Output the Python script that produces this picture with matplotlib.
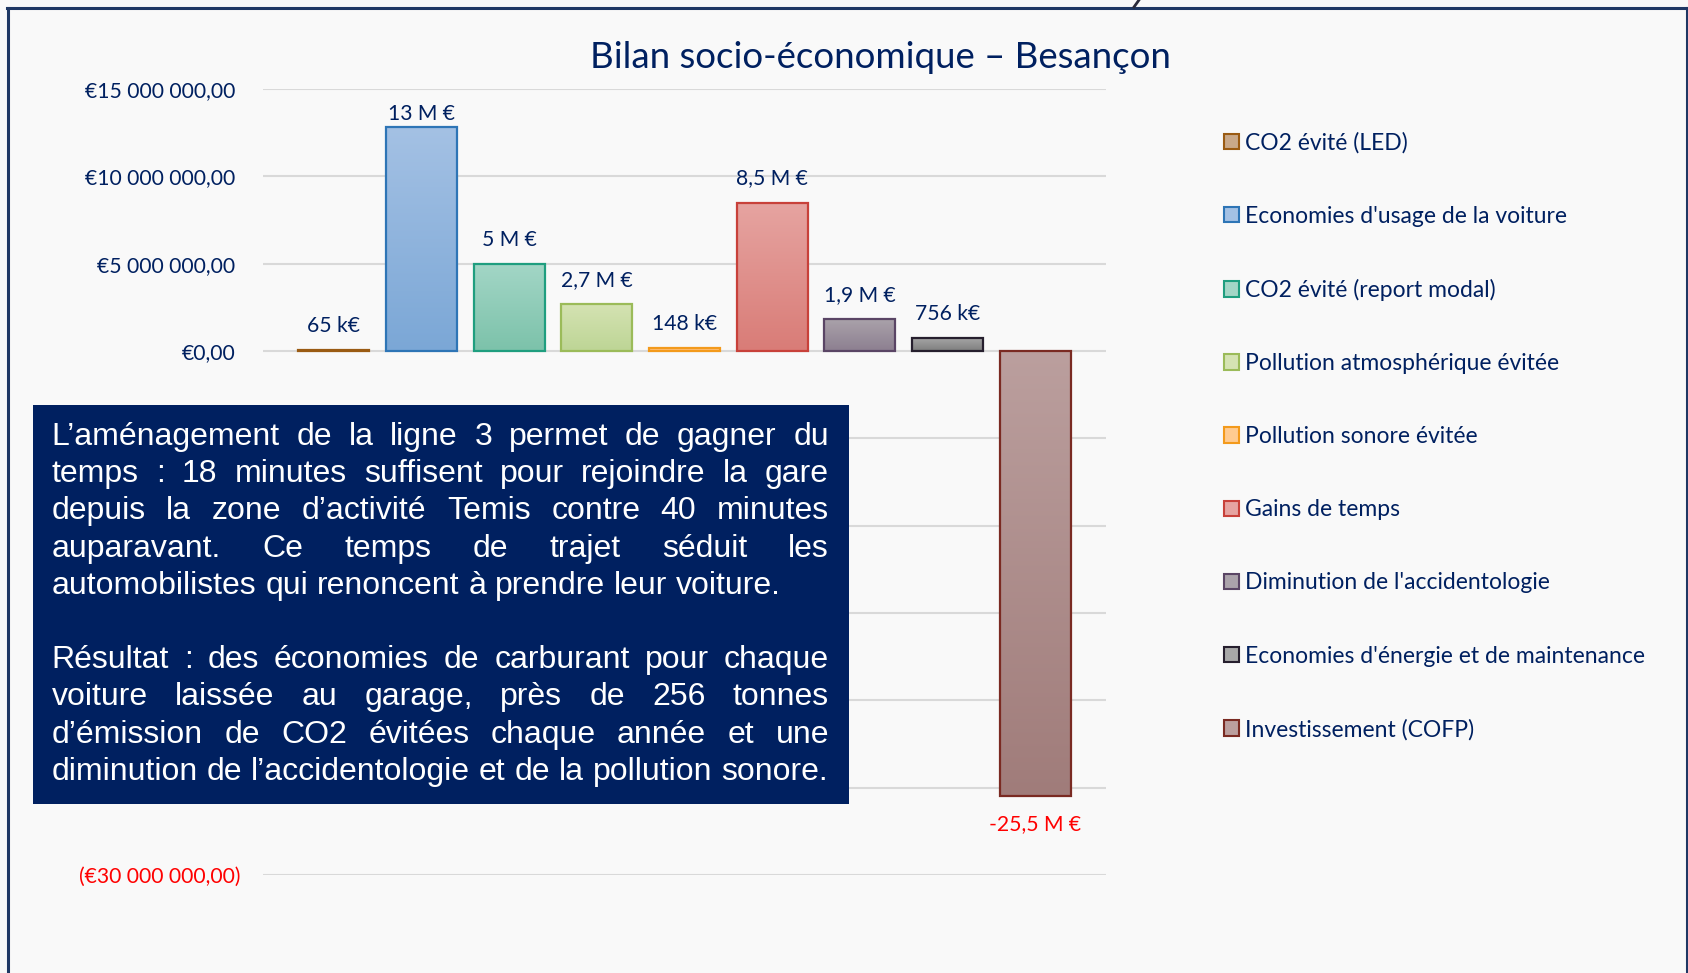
import numpy as np
import matplotlib.pyplot as plt
from matplotlib.patches import Rectangle, Patch
from matplotlib.colors import LinearSegmentedColormap
from matplotlib.lines import Line2D
from matplotlib.transforms import IdentityTransform, ScaledTranslation

W, H = 1688, 973
NAVY = '#002060'

categories = ["CO2 évité (LED)", "Economies d'usage de la voiture", "CO2 évité (report modal)",
              "Pollution atmosphérique évitée", "Pollution sonore évitée", "Gains de temps",
              "Diminution de l'accidentologie", "Economies d'énergie et de maintenance",
              "Investissement (COFP)"]
values = [65e3, 12.8e6, 5.0e6, 2.7e6, 148e3, 8.5e6, 1.85e6, 756e3, -25.5e6]
value_labels = ["65 k€", "13 M €", "5 M €", "2,7 M €", "148 k€", "8,5 M €", "1,9 M €", "756 k€", "-25,5 M €"]
y_ticks = [-30e6, -25e6, -20e6, -15e6, -10e6, -5e6, 0, 5e6, 10e6, 15e6]

top_colors = ['#C9A98A', '#A4C1E4', '#A3D6C6', '#D5E3B3', '#FFCB91', '#E6A4A1', '#ABA3AB', '#A8A8A8', '#BB9F9E']
bot_colors = ['#B08D6E', '#7BA7D6', '#7CC2AA', '#BDD595', '#FFB870', '#D97C77', '#8C7F90', '#7E7E7E', '#A07C7A']
edge_colors = ['#9A5B13', '#2E75B6', '#1F9E7F', '#9BBB59', '#F39A1C', '#C8413A', '#5A4565', '#261F2E', '#7A2A22']

para1 = ["L’aménagement de la ligne 3 permet de gagner du",
         "temps : 18 minutes suffisent pour rejoindre la gare",
         "depuis la zone d’activité Temis contre 40 minutes",
         "auparavant. Ce temps de trajet séduit les",
         "automobilistes qui renoncent à prendre leur voiture."]
para2 = ["Résultat : des économies de carburant pour chaque",
         "voiture laissée au garage, près de 256 tonnes",
         "d’émission de CO2 évitées chaque année et une",
         "diminution de l’accidentologie et de la pollution sonore."]

lab_font = 'Lato'
lab_size = 15.2

fig = plt.figure(figsize=(W/100, H/100), dpi=100)
fig.patch.set_facecolor('#F9F9F9')
ax = fig.add_axes([263/W, (H-875)/H, 843/W, 786/H])
ax.set_facecolor('none')

x = np.arange(len(values))
bw = 0.81
bars = ax.bar(x, values, width=bw, facecolor='none', edgecolor=edge_colors, linewidth=1.6, zorder=3)

# gradient fill inside each bar
for b, ct, cb in zip(bars, top_colors, bot_colors):
    x0, w = b.get_x(), b.get_width()
    y0, h = b.get_y(), b.get_height()
    cmap = LinearSegmentedColormap.from_list('g', [ct, cb])
    im = ax.imshow(np.linspace(0, 1, 256).reshape(-1, 1), cmap=cmap, origin='upper', aspect='auto',
                   extent=[x0, x0 + w, min(y0, y0 + h), max(y0, y0 + h)], zorder=2)
    im.set_clip_path(b)

ax.set_xlim(-0.805, len(values) - 1 + 0.805)
ax.set_ylim(-30e6, 15e6)


def euro(v):
    s = f"{abs(v):,.2f}".replace(",", " ").replace(".", ",")
    return f"(€{s})" if v < 0 else f"€{s}"


# labels between -25M and -5M sit behind the text box in the original, so they stay blank
shown = [t >= 0 or t == y_ticks[0] for t in y_ticks]
ax.set_yticks(y_ticks, labels=[euro(t) if s else "" for t, s in zip(y_ticks, shown)])
ax.tick_params(axis='y', length=0, pad=20)
for lbl, t in zip(ax.get_yticklabels(), y_ticks):
    lbl.set_fontfamily(lab_font)
    lbl.set_fontsize(lab_size)
    lbl.set_color('#FF0000' if t < 0 else NAVY)
    if t < 0:
        # the closing parenthesis hangs past the right edge of the positive labels
        lbl.set_transform(lbl.get_transform() + ScaledTranslation(0.052, 0, fig.dpi_scale_trans))
ax.set_xticks([])
for s in ax.spines.values():
    s.set_visible(False)
ax.yaxis.grid(True, color='#D9D9D9', linewidth=1.5)
ax.set_axisbelow(True)

# data labels (kept inside the plot area like the original)
ceiling = H - 88 - 26
for xi, v, lab in zip(x, values, value_labels):
    yd = ax.transData.transform((xi, v))[1]
    if v >= 0:
        off = min(24, ceiling - yd)
        ax.annotate(lab, (xi, v), xytext=(0, off), textcoords='offset pixels', ha='center', va='center',
                    fontsize=lab_size, family=lab_font, color=NAVY)
    else:
        ax.annotate(lab, (xi, v), xytext=(0, -28), textcoords='offset pixels', ha='center', va='center',
                    fontsize=lab_size, family=lab_font, color='#FF0000')

fig.text(880/W, 1 - 57/H, "Bilan socio-économique – Besançon", ha='center', va='center',
         fontsize=26.4, family=lab_font, color=NAVY)

handles = [Patch(facecolor=(ct), edgecolor=ec, linewidth=1.5) for ct, ec in zip(top_colors, edge_colors)]
fig.legend(handles, categories, loc='upper left', bbox_to_anchor=(1224/W, 1 - 132/H), frameon=False,
           prop={'family': lab_font, 'size': 16.5}, handlelength=0.66, handleheight=0.66,
           handletextpad=0.25, labelspacing=2.275, borderpad=0, borderaxespad=0, labelcolor=NAVY)

# text box
ident = IdentityTransform()
fig.add_artist(Rectangle((33.3, H - 804.3), 815.5, 399.5, transform=ident, facecolor=NAVY,
                         edgecolor='none', zorder=5))
renderer = fig.canvas.get_renderer()
tx0, tx1 = 51.7, 829.0
tfont = dict(family='Liberation Sans', fontsize=23.0, color='white', va='baseline', ha='left',
             transform=ident, zorder=6)
probe_a = fig.text(0, 0, "a a", **tfont)
probe_b = fig.text(0, 0, "aa", **tfont)
space_w = probe_a.get_window_extent(renderer).width - probe_b.get_window_extent(renderer).width
probe_a.remove()
probe_b.remove()

rows = [(ln, i < len(para1) - 1) for i, ln in enumerate(para1)] + [None] + \
       [(ln, i < len(para2) - 1) for i, ln in enumerate(para2)]
base = 445
for r, row in enumerate(rows):
    if row is None:
        continue
    line, justify = row
    yb = H - (base + 37.2 * r)
    words = line.split(" ")
    texts = [fig.text(0, yb, w, **tfont) for w in words]
    widths = [t.get_window_extent(renderer).width for t in texts]
    gap = (tx1 - tx0 - sum(widths)) / (len(words) - 1) if justify else space_w
    cx = tx0
    for t, w in zip(texts, widths):
        t.set_x(cx)
        cx += w + gap

# slide frame
frame = '#1F3864'
fig.add_artist(Line2D([7, W], [H - 7.5, H - 7.5], transform=ident, color=frame, lw=2.2))
fig.add_artist(Line2D([7.5, 7.5], [0, H - 7.5], transform=ident, color=frame, lw=2.2))
fig.add_artist(Line2D([W - 1, W - 1], [0, H - 7.5], transform=ident, color=frame, lw=2.2))
fig.add_artist(Line2D([1139, 1134], [H, H - 7], transform=ident, color='#2A2A3A', lw=2))

fig.savefig("out.png", dpi=100, facecolor=fig.get_facecolor())
